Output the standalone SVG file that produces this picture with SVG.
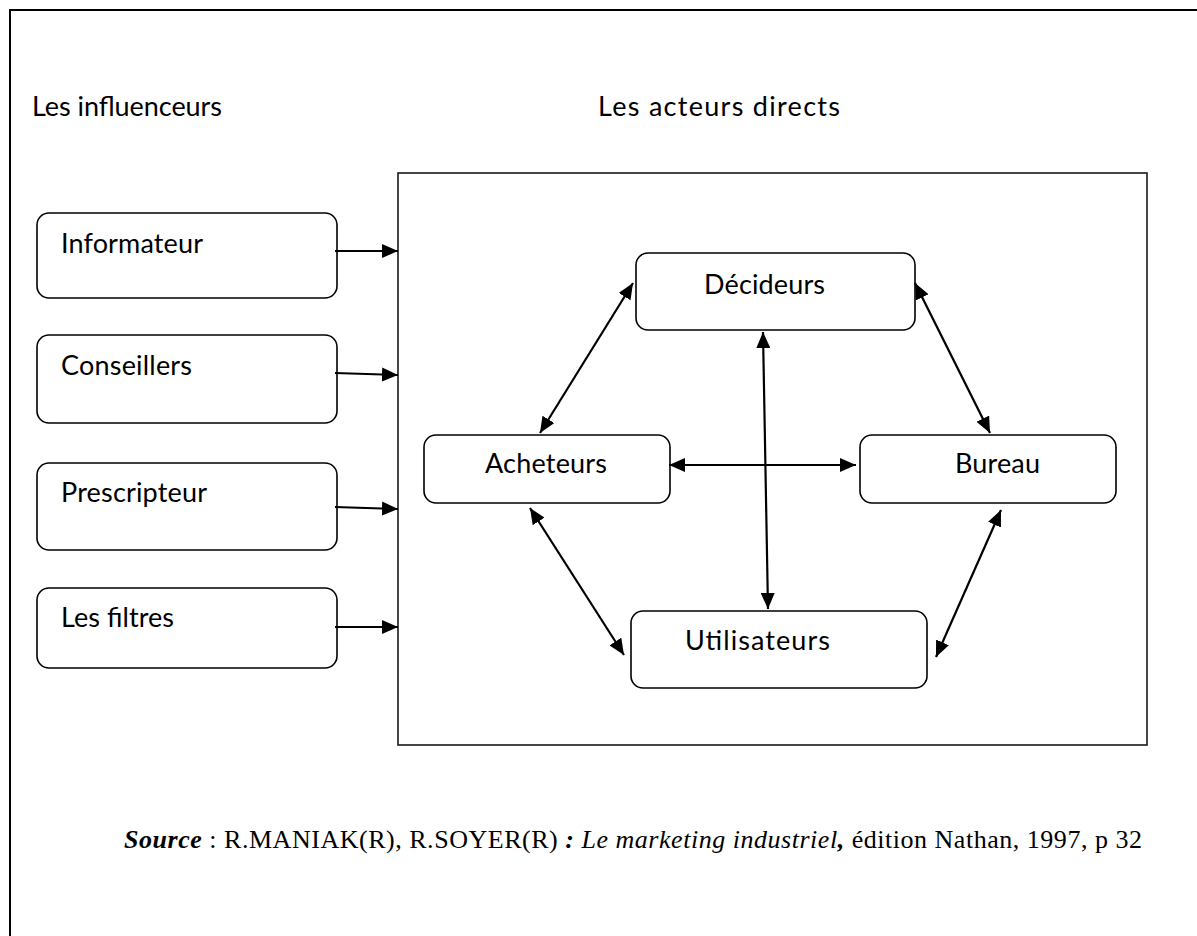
<svg xmlns="http://www.w3.org/2000/svg" width="1197" height="936" viewBox="0 0 1197 936">
  <style>
    .frame { fill: none; stroke: #000; stroke-width: 2; }
    .panel { fill: none; stroke: #1a1a1a; stroke-width: 1.6; }
    .node { fill: #fff; stroke: #000; stroke-width: 1.6; }
    .label { font-family: Lato, "Liberation Sans", sans-serif; font-size: 27px; fill: #000; }
    .link { fill: none; stroke: #000; stroke-width: 2.2; }
    .src { font-family: "Liberation Serif", "Times New Roman", serif; font-size: 26px; fill: #000; }
    .bi { font-weight: bold; font-style: italic; }
    .it { font-style: italic; }
  </style>
  <defs>
    <marker id="arrow" viewBox="0 0 16 14" refX="16" refY="7" markerWidth="16" markerHeight="14" markerUnits="userSpaceOnUse" orient="auto-start-reverse">
      <path d="M0,0 L16,7 L0,14 z" fill="#000"/>
    </marker>
  </defs>
  <rect width="1197" height="936" fill="#fff"/>

  <!-- page frame (top and left edges) -->
  <path class="frame" d="M10,936 L10,10 L1197,10"/>

  <!-- column headers -->
  <text class="label" x="32" y="116" textLength="190">Les influenceurs</text>
  <text class="label" x="598" y="116" textLength="242">Les acteurs directs</text>

  <!-- panel of direct actors -->
  <rect id="acteurs-directs" class="panel" x="398" y="173" width="749" height="572"/>

  <!-- influencer nodes -->
  <g id="informateur">
    <rect class="node" x="37" y="213" width="300" height="85" rx="12"/>
    <text class="label" x="61" y="253" textLength="142">Informateur</text>
  </g>
  <g id="conseillers">
    <rect class="node" x="37" y="335" width="300" height="88" rx="12"/>
    <text class="label" x="61" y="375" textLength="131">Conseillers</text>
  </g>
  <g id="prescripteur">
    <rect class="node" x="37" y="463" width="300" height="87" rx="12"/>
    <text class="label" x="61" y="502" textLength="146">Prescripteur</text>
  </g>
  <g id="filtres">
    <rect class="node" x="37" y="588" width="300" height="80" rx="12"/>
    <text class="label" x="61" y="627" textLength="113">Les filtres</text>
  </g>

  <!-- direct actor nodes -->
  <g id="decideurs">
    <rect class="node" x="636" y="253" width="279" height="77" rx="12"/>
    <text class="label" x="704" y="294" textLength="121">Décideurs</text>
  </g>
  <g id="acheteurs">
    <rect class="node" x="424" y="435" width="246" height="68" rx="12"/>
    <text class="label" x="485" y="473" textLength="122">Acheteurs</text>
  </g>
  <g id="bureau">
    <rect class="node" x="860" y="435" width="256" height="68" rx="12"/>
    <text class="label" x="955" y="473" textLength="85">Bureau</text>
  </g>
  <g id="utilisateurs">
    <rect class="node" x="631" y="611" width="296" height="77" rx="12"/>
    <text class="label" x="685" y="650" textLength="145">Utilisateurs</text>
  </g>

  <!-- connectors -->
  <g id="connectors">
    <line class="link" x1="335" y1="251" x2="398" y2="251" marker-end="url(#arrow)"/>
    <line class="link" x1="335" y1="373" x2="398" y2="375" marker-end="url(#arrow)"/>
    <line class="link" x1="335" y1="507" x2="398" y2="509" marker-end="url(#arrow)"/>
    <line class="link" x1="335" y1="627" x2="398" y2="627" marker-end="url(#arrow)"/>
    <line class="link" x1="633" y1="283" x2="540" y2="433" marker-start="url(#arrow)" marker-end="url(#arrow)"/>
    <line class="link" x1="915" y1="283" x2="990" y2="433" marker-start="url(#arrow)" marker-end="url(#arrow)"/>
    <line class="link" x1="763" y1="332" x2="768" y2="609" marker-start="url(#arrow)" marker-end="url(#arrow)"/>
    <line class="link" x1="669" y1="465" x2="856" y2="465" marker-start="url(#arrow)" marker-end="url(#arrow)"/>
    <line class="link" x1="530" y1="508" x2="624" y2="655" marker-start="url(#arrow)" marker-end="url(#arrow)"/>
    <line class="link" x1="1001" y1="510" x2="936" y2="657" marker-start="url(#arrow)" marker-end="url(#arrow)"/>
  </g>

  <!-- source line -->
  <text class="src" x="124" y="848" textLength="1018"><tspan class="bi">Source</tspan> : R.MANIAK(R), R.SOYER(R) <tspan class="bi">:</tspan><tspan class="it"> Le marketing industriel</tspan><tspan class="bi">,</tspan> édition  Nathan, 1997, p 32</text>
</svg>
